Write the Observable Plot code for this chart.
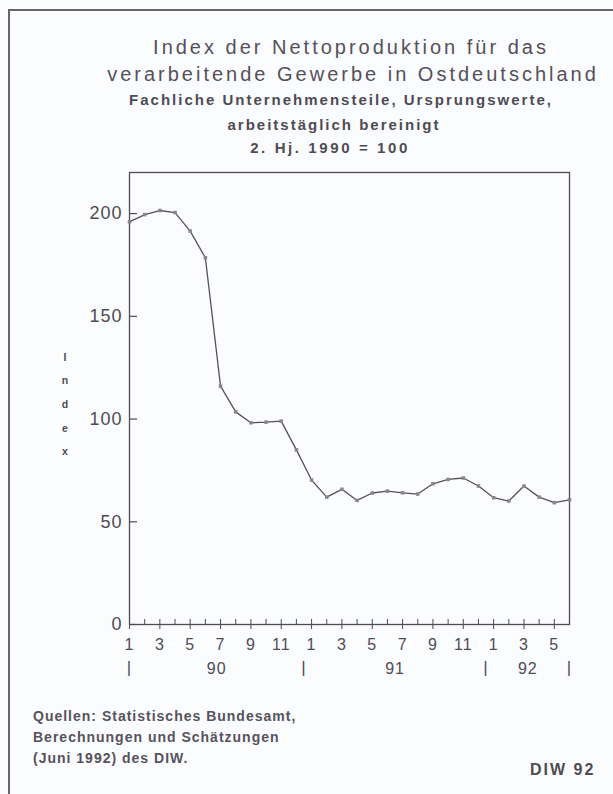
<!DOCTYPE html>
<html>
<head>
<meta charset="utf-8">
<script src="https://cdn.jsdelivr.net/npm/d3@7"></script>
<script src="https://cdn.jsdelivr.net/npm/@observablehq/plot@0.6"></script>
<style>
  body { margin: 0; background: #fbfcfd; }
  #wrap { position: relative; width: 613px; height: 794px; background: #fbfcfd; overflow: hidden;
          font-family: "Liberation Sans", Arial, sans-serif; color: #4f4b55; }
  .c { position: absolute; white-space: nowrap; transform: translateX(-50%); }
  .title { font-size: 20px; letter-spacing: 3px; line-height: 24px; color: #55505b; }
  .sub { font-size: 15px; font-weight: bold; letter-spacing: 2px; line-height: 18px; }
  #foot { position: absolute; left: 33px; top: 706px; font-size: 14px; font-weight: bold;
          letter-spacing: 1px; line-height: 21px; white-space: nowrap; color: #57525d; }
  #diw { position: absolute; left: 530px; top: 761px; font-size: 16px; font-weight: bold; letter-spacing: 2px; }
  #bl { position: absolute; left: 8px; top: 10px; width: 1.5px; height: 784px; background: #6a6470; }
  #bt { position: absolute; left: 8px; top: 9px; width: 605px; height: 1.5px; background: #6a6470; }
  #chart { position: absolute; left: 0; top: 0; }
</style>
</head>
<body>
<div id="wrap">
  <div id="bl"></div><div id="bt"></div>
  <div id="chart"></div>
  <div class="c title" style="left:351px; top:35px;">Index der Nettoproduktion für das</div>
  <div class="c title" style="left:353px; top:62px;">verarbeitende Gewerbe in Ostdeutschland</div>
  <div class="c sub" style="left:341px; top:91px;">Fachliche Unternehmensteile, Ursprungswerte,</div>
  <div class="c sub" style="left:334px; top:116px;">arbeitstäglich bereinigt</div>
  <div class="c sub" style="left:330px; top:139px; letter-spacing:2.6px;">2. Hj. 1990 = 100</div>
  <div id="foot">Quellen: Statistisches Bundesamt,<br>Berechnungen und Schätzungen<br>(Juni 1992) des DIW.</div>
  <div id="diw">DIW 92</div>
</div>
<script>
// Monthly periods (month/year), January 1990 to June 1992
const periods = ["1/90","2/90","3/90","4/90","5/90","6/90","7/90","8/90","9/90","10/90","11/90","12/90",
                 "1/91","2/91","3/91","4/91","5/91","6/91","7/91","8/91","9/91","10/91","11/91","12/91",
                 "1/92","2/92","3/92","4/92","5/92","6/92"];
// Index values (2. Hj. 1990 = 100)
const values = [196, 199.5, 201.5, 200.5, 191.5, 178.5, 116, 103.5, 98.2, 98.5, 99, 85,
                70.3, 62, 65.8, 60.4, 64, 64.9, 64.1, 63.5, 68.5, 70.6, 71.3, 67.4,
                61.7, 60.1, 67.4, 62, 59.3, 60.7];
const yTicks = [0, 50, 100, 150, 200];
const monthTickLabels = ["1","3","5","7","9","11"];
const years = ["90", "91", "92"];
const yLabel = "Index";

const data = periods.map((p, i) => ({i, month: p.split("/")[0], year: p.split("/")[1], v: values[i]}));
const last = data.length - 1;
const allIdx = data.map(d => d.i);
const labeledIdx = data.filter(d => monthTickLabels.includes(d.month)).map(d => d.i);
const yearSpans = years.map(y => {
  const rows = data.filter(d => d.year === y);
  const f = rows[0].i, l = rows[rows.length - 1].i;
  const lo = f === 0 ? 0 : f - 0.5, hi = l === last ? last : l + 0.5;
  return {year: y, lo, hi, mid: (lo + hi) / 2};
});
const separators = Array.from(new Set(yearSpans.flatMap(s => [s.lo, s.hi])));

const ink = "#4f4b55";
const chart = Plot.plot({
  width: 613,
  height: 700,
  marginLeft: 129,
  marginRight: 44,
  marginTop: 172,
  marginBottom: 76,
  style: {fontFamily: "Liberation Sans, Arial, sans-serif", color: ink, background: "transparent", letterSpacing: "1px"},
  x: {domain: [0, last], label: null},
  y: {domain: [0, 220], label: null},
  marks: [
    Plot.frame({stroke: ink, strokeWidth: 1.3}),
    Plot.axisY({ticks: yTicks, tickSize: -8, tickPadding: 15, fontSize: 18, strokeWidth: 1.2, label: null}),
    Plot.axisX({ticks: allIdx, tickSize: -5, tickFormat: () => "", strokeWidth: 1, label: null}),
    Plot.axisX({ticks: labeledIdx, tickSize: 5, tickPadding: 9, fontSize: 16, strokeWidth: 1, label: null,
                tickFormat: i => data[i].month}),
    Plot.text(separators, {x: d => d, y: () => 0, text: () => "|", dy: 43, fontSize: 17, fill: ink}),
    Plot.text(yearSpans, {x: "mid", y: () => 0, text: "year", dy: 44, fontSize: 16, fill: ink}),
    Plot.text([yLabel.split("").join("\n")], {frameAnchor: "left", dx: -64, dy: 2, fontSize: 10.5,
               fontWeight: "bold", lineHeight: 2.25, textAnchor: "middle", fill: ink}),
    Plot.line(data, {x: "i", y: "v", stroke: "#55505a", strokeWidth: 1.3}),
    Plot.dot(data, {x: "i", y: "v", symbol: "square", r: 2, fill: "#8a8690", stroke: "none"})
  ]
});
document.getElementById("chart").appendChild(chart);
</script>
</body>
</html>
